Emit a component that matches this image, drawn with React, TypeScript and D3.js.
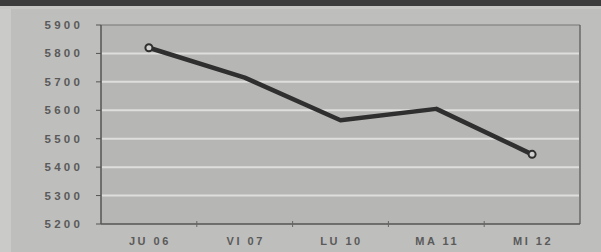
import React from "react";
import * as d3 from "d3";

const categories = ["JU 06", "VI 07", "LU 10", "MA 11", "MI 12"];
const values = [5820, 5715, 5565, 5605, 5445];
const yTicks = [5200, 5300, 5400, 5500, 5600, 5700, 5800, 5900];

export default function App() {
  const W = 601, H = 252;
  const left = 101, right = 580, top = 25, bottom = 224;
  const x = d3.scaleBand<string>().domain(categories).range([left, right]).paddingInner(0).paddingOuter(0);
  const y = d3.scaleLinear().domain([5200, 5900]).range([bottom, top]);
  const line = d3.line<number>()
    .x((_, i) => (x(categories[i]) as number) + x.bandwidth() / 2)
    .y((d) => y(d));
  const boundaries = categories.slice(1).map((c) => x(c) as number);
  const font = "'Liberation Sans', Arial, sans-serif";
  return (
    <svg width={W} height={H} style={{ position: "absolute", left: 0, top: 0, display: "block" }}>
      <rect x={0} y={0} width={W} height={H} fill="#bebebc" />
      <rect x={0} y={0} width={11} height={H} fill="#cacac8" />
      <rect x={0} y={6} width={W} height={3} fill="#c6c6c4" />
      <rect x={0} y={0} width={W} height={6} fill="#3c3c3c" />
      <rect x={left} y={top} width={right - left} height={bottom - top} fill="#b6b6b4" />
      {yTicks.slice(1, -1).map((t) => (
        <line key={t} x1={left + 1} x2={right - 1} y1={y(t)} y2={y(t)} stroke="#dededc" strokeWidth={2} />
      ))}
      <line x1={left} x2={right} y1={top} y2={top} stroke="#777" strokeWidth={1} />
      <line x1={right} x2={right} y1={top} y2={bottom} stroke="#555" strokeWidth={1.2} />
      <line x1={left} x2={left} y1={top} y2={bottom} stroke="#555" strokeWidth={1.5} />
      <line x1={left} x2={right} y1={bottom} y2={bottom} stroke="#555" strokeWidth={1.5} />
      {yTicks.map((t) => (
        <g key={t}>
          <line x1={left - 5} x2={left} y1={y(t)} y2={y(t)} stroke="#555" strokeWidth={1} />
          <text x={83} y={y(t) + 4} textAnchor="end" fontFamily={font} fontWeight="bold" fontSize={11.5}
            letterSpacing={3.2} fill="#5a5a5a">{t}</text>
        </g>
      ))}
      {boundaries.map((b, i) => (
        <line key={i} x1={b} x2={b} y1={bottom - 3} y2={bottom + 3} stroke="#666" strokeWidth={1} />
      ))}
      {categories.map((c) => (
        <text key={c} x={(x(c) as number) + x.bandwidth() / 2 + 1} y={245} textAnchor="middle" fontFamily={font}
          fontWeight="bold" fontSize={11} letterSpacing={2.5} fill="#5a5a5a">{c}</text>
      ))}
      <path d={line(values) || ""} fill="none" stroke="#2f2f2f" strokeWidth={4.5} strokeLinejoin="round" />
      {[0, values.length - 1].map((i) => (
        <circle key={i} cx={(x(categories[i]) as number) + x.bandwidth() / 2} cy={y(values[i])} r={3.5}
          fill="#d0d0ce" stroke="#2f2f2f" strokeWidth={2} />
      ))}
    </svg>
  );
}
